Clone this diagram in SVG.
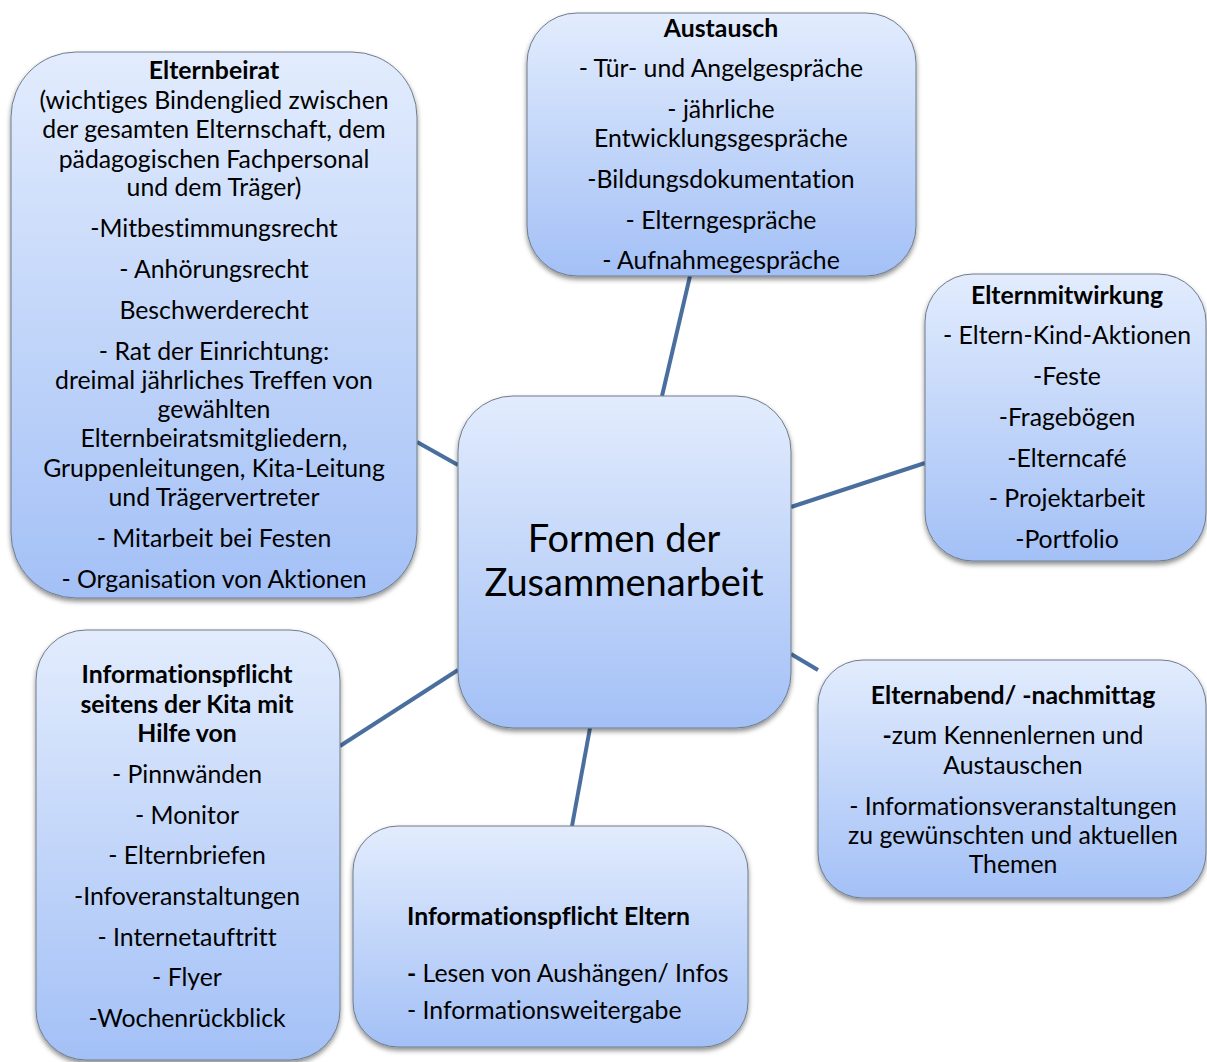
<svg xmlns="http://www.w3.org/2000/svg" width="1207" height="1062" viewBox="0 0 1207 1062">
<defs>
<linearGradient id="g" x1="0" y1="0" x2="0" y2="1">
<stop offset="0" stop-color="#e2ecfd"/>
<stop offset="1" stop-color="#a3c0f6"/>
</linearGradient>
<filter id="sh" x="-10%" y="-10%" width="120%" height="125%">
<feDropShadow dx="0" dy="3" stdDeviation="2.5" flood-color="#000" flood-opacity="0.45"/>
</filter>
</defs>
<style>
.box{fill:url(#g);stroke:#6f7c8c;stroke-width:1;filter:url(#sh)}
.t{font-family:Lato,"Open Sans",sans-serif;font-size:24.8px;fill:#000;text-anchor:middle;font-variant-ligatures:none}
.l{text-anchor:start}
.b{font-weight:bold}
.big{font-size:38px}
.c{stroke:#4a6f9e;stroke-width:4;fill:none}
</style>
<rect width="1207" height="1062" fill="#fff"/>
<g id="connectors">
<line class="c" x1="690" y1="276" x2="662" y2="396"/>
<line class="c" x1="417" y1="442" x2="458" y2="465"/>
<line class="c" x1="925" y1="463" x2="791" y2="507"/>
<line class="c" x1="791" y1="654" x2="818" y2="670"/>
<line class="c" x1="458" y1="670" x2="340" y2="746"/>
<line class="c" x1="590" y1="728" x2="572" y2="826"/>
</g>
<g id="center">
<rect class="box" x="458" y="396" width="333" height="332" rx="55"/>
<text class="t big" x="624" y="552">Formen der</text>
<text class="t big" x="624" y="596">Zusammenarbeit</text>
</g>
<g id="austausch">
<rect class="box" x="527" y="13" width="389" height="263" rx="50"/>
<text class="t b" x="721" y="37">Austausch</text>
<text class="t" x="721" y="77">- Tür- und Angelgespräche</text>
<text class="t" x="721" y="118">- jährliche</text>
<text class="t" x="721" y="147">Entwicklungsgespräche</text>
<text class="t" x="721" y="188">-Bildungsdokumentation</text>
<text class="t" x="721" y="229">- Elterngespräche</text>
<text class="t" x="721" y="269">- Aufnahmegespräche</text>
</g>
<g id="elternbeirat">
<rect class="box" x="11" y="52" width="406" height="546" rx="65"/>
<text class="t b" x="214" y="79">Elternbeirat</text>
<text class="t" x="214" y="109">(wichtiges Bindenglied zwischen</text>
<text class="t" x="214" y="138">der gesamten Elternschaft, dem</text>
<text class="t" x="214" y="168">pädagogischen Fachpersonal</text>
<text class="t" x="214" y="196">und dem Träger)</text>
<text class="t" x="214" y="237">-Mitbestimmungsrecht</text>
<text class="t" x="214" y="278">- Anhörungsrecht</text>
<text class="t" x="214" y="319">Beschwerderecht</text>
<text class="t" x="214" y="360">- Rat der Einrichtung:</text>
<text class="t" x="214" y="389">dreimal jährliches Treffen von</text>
<text class="t" x="214" y="418">gewählten</text>
<text class="t" x="214" y="447">Elternbeiratsmitgliedern,</text>
<text class="t" x="214" y="477">Gruppenleitungen, Kita-Leitung</text>
<text class="t" x="214" y="506">und Trägervertreter</text>
<text class="t" x="214" y="547">- Mitarbeit bei Festen</text>
<text class="t" x="214" y="588">- Organisation von Aktionen</text>
</g>
<g id="elternmitwirkung">
<rect class="box" x="925" y="274" width="281" height="287" rx="48"/>
<text class="t b" x="1067" y="304">Elternmitwirkung</text>
<text class="t" x="1067" y="344">- Eltern-Kind-Aktionen</text>
<text class="t" x="1067" y="385">-Feste</text>
<text class="t" x="1067" y="426">-Fragebögen</text>
<text class="t" x="1067" y="467">-Elterncafé</text>
<text class="t" x="1067" y="507">- Projektarbeit</text>
<text class="t" x="1067" y="548">-Portfolio</text>
</g>
<g id="elternabend">
<rect class="box" x="818" y="660" width="388" height="238" rx="45"/>
<text class="t b" x="1013" y="704">Elternabend/ -nachmittag</text>
<text class="t" x="1013" y="744"><tspan class="b">-</tspan>zum Kennenlernen und</text>
<text class="t" x="1013" y="774">Austauschen</text>
<text class="t" x="1013" y="815">- Informationsveranstaltungen</text>
<text class="t" x="1013" y="844">zu gewünschten und aktuellen</text>
<text class="t" x="1013" y="873">Themen</text>
</g>
<g id="infokita">
<rect class="box" x="36" y="630" width="304" height="430" rx="50"/>
<text class="t b" x="187" y="683">Informationspflicht</text>
<text class="t b" x="187" y="713">seitens der Kita mit</text>
<text class="t b" x="187" y="742">Hilfe von</text>
<text class="t" x="187" y="783">- Pinnwänden</text>
<text class="t" x="187" y="824">- Monitor</text>
<text class="t" x="187" y="864">- Elternbriefen</text>
<text class="t" x="187" y="905">-Infoveranstaltungen</text>
<text class="t" x="187" y="946">- Internetauftritt</text>
<text class="t" x="187" y="986">- Flyer</text>
<text class="t" x="187" y="1027">-Wochenrückblick</text>
</g>
<g id="infoeltern">
<rect class="box" x="353" y="826" width="395" height="221" rx="45"/>
<text class="t l b" x="407" y="925">Informationspflicht Eltern</text>
<text class="t l" x="407" y="982"><tspan class="b">-</tspan> Lesen von Aushängen/ Infos</text>
<text class="t l" x="407" y="1019">- Informationsweitergabe</text>
</g>
</svg>
